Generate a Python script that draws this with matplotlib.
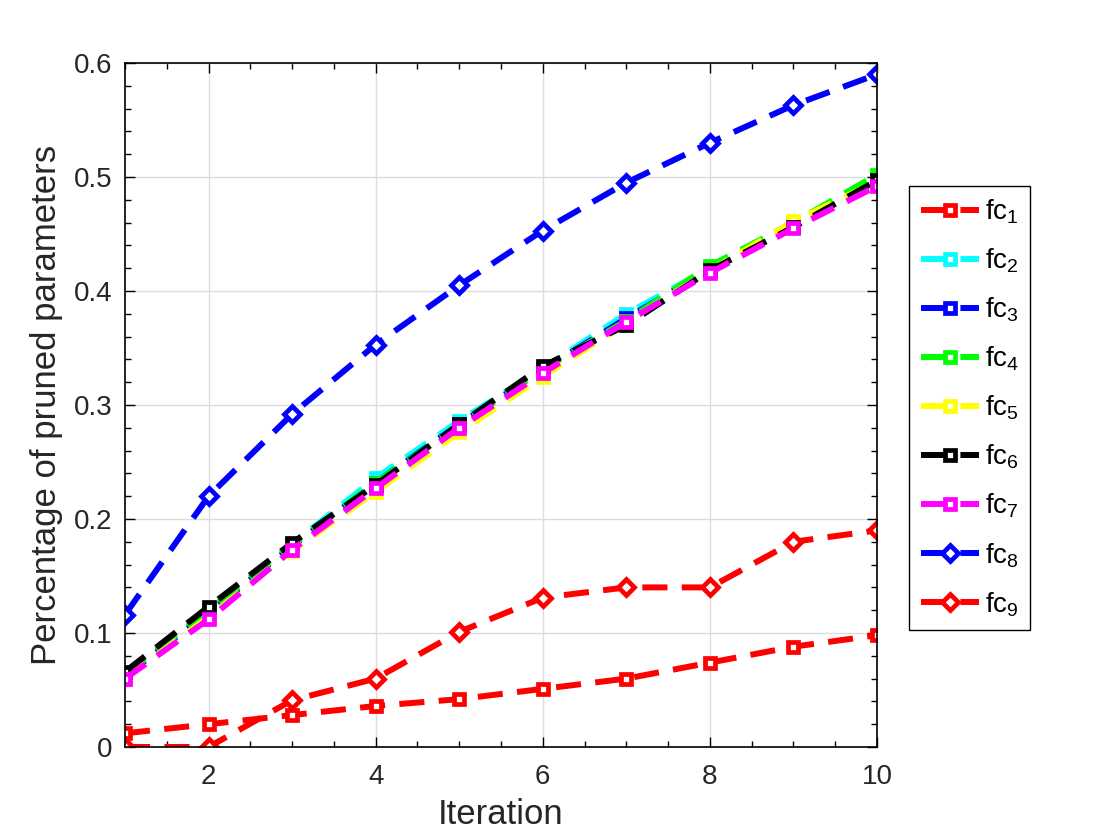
import matplotlib
matplotlib.use("Agg")
import matplotlib.pyplot as plt
from matplotlib.ticker import MultipleLocator

iterations = [1, 2, 3, 4, 5, 6, 7, 8, 9, 10]

fc1 = [0.012, 0.020, 0.028, 0.036, 0.042, 0.051, 0.060, 0.074, 0.088, 0.098]
fc2 = [0.064, 0.120, 0.178, 0.236, 0.286, 0.332, 0.380, 0.420, 0.458, 0.498]
fc3 = [0.062, 0.118, 0.176, 0.232, 0.283, 0.331, 0.376, 0.419, 0.457, 0.497]
fc4 = [0.064, 0.120, 0.177, 0.232, 0.282, 0.331, 0.374, 0.422, 0.460, 0.502]
fc5 = [0.060, 0.114, 0.172, 0.224, 0.276, 0.325, 0.372, 0.418, 0.461, 0.496]
fc6 = [0.066, 0.123, 0.179, 0.230, 0.283, 0.334, 0.370, 0.418, 0.456, 0.497]
fc7 = [0.060, 0.112, 0.173, 0.227, 0.280, 0.328, 0.373, 0.416, 0.455, 0.492]
fc8 = [0.116, 0.220, 0.292, 0.353, 0.405, 0.453, 0.495, 0.530, 0.563, 0.590]
fc9 = [0.000, 0.000, 0.041, 0.060, 0.101, 0.131, 0.140, 0.140, 0.180, 0.190]

series = [fc1, fc2, fc3, fc4, fc5, fc6, fc7, fc8, fc9]
labels = [r"fc$_{%d}$" % i for i in range(1, 10)]
colors = ["#ff0000", "#00ffff", "#0000ff", "#00ff00", "#ffff00",
          "#000000", "#ff00ff", "#0000ff", "#ff0000"]
markers = ["s", "s", "s", "s", "s", "s", "s", "D", "D"]

plt.rcParams["font.family"] = ["Liberation Sans", "DejaVu Sans"]
plt.rcParams["mathtext.fontset"] = "custom"
plt.rcParams["mathtext.rm"] = "Liberation Sans"
plt.rcParams["mathtext.it"] = "Liberation Sans"

text_color = "#262626"

fig = plt.figure(figsize=(11.2, 8.4), dpi=100)
ax = fig.add_axes([125 / 1120, 93 / 840, 752 / 1120, 684 / 840])

for ys, lab, col, mk in zip(series, labels, colors, markers):
    ax.plot(iterations, ys, linestyle=(0, (4.2, 2.4)), linewidth=4.3,
            color=col, marker=mk, markersize=7.5 if mk == "s" else 8,
            markerfacecolor="white", markeredgecolor=col,
            markeredgewidth=3.4, label=lab)

ax.set_xlim(1, 10)
ax.set_ylim(0, 0.6)
ax.set_xticks([2, 4, 6, 8, 10])
ax.set_yticks([0, 0.1, 0.2, 0.3, 0.4, 0.5, 0.6])
ax.set_yticklabels(["0", "0.1", "0.2", "0.3", "0.4", "0.5", "0.6"])
ax.xaxis.set_minor_locator(MultipleLocator(0.5))
ax.yaxis.set_minor_locator(MultipleLocator(0.02))
ax.tick_params(which="both", direction="in", top=True, right=True,
               colors="black", labelcolor=text_color, labelsize=20, width=1.0)
ax.tick_params(which="major", length=7)
ax.tick_params(axis="x", which="major", pad=12)
ax.tick_params(axis="y", which="major", pad=9)
ax.tick_params(which="minor", length=4)
ax.grid(True, which="major", color="#dcdcdc", linewidth=1.0)
ax.set_axisbelow(True)
for sp in ax.spines.values():
    sp.set_linewidth(1.2)
    sp.set_color("black")

ax.set_xlabel("Iteration", fontsize=25, color=text_color, labelpad=6)
ax.set_ylabel("Percentage of pruned parameters", fontsize=25,
              color=text_color, labelpad=8)

leg = ax.legend(loc="upper left", bbox_to_anchor=(909 / 1120, 1 - 186 / 840),
                bbox_transform=fig.transFigure, fontsize=20, frameon=True,
                fancybox=False, edgecolor="black", framealpha=1,
                handlelength=2.1, handletextpad=0.2, labelspacing=0.74,
                borderpad=0.42, borderaxespad=0)
leg.get_frame().set_linewidth(1.0)
for t in leg.get_texts():
    t.set_color("black")

fig.savefig("out.png", dpi=100, facecolor="white")
